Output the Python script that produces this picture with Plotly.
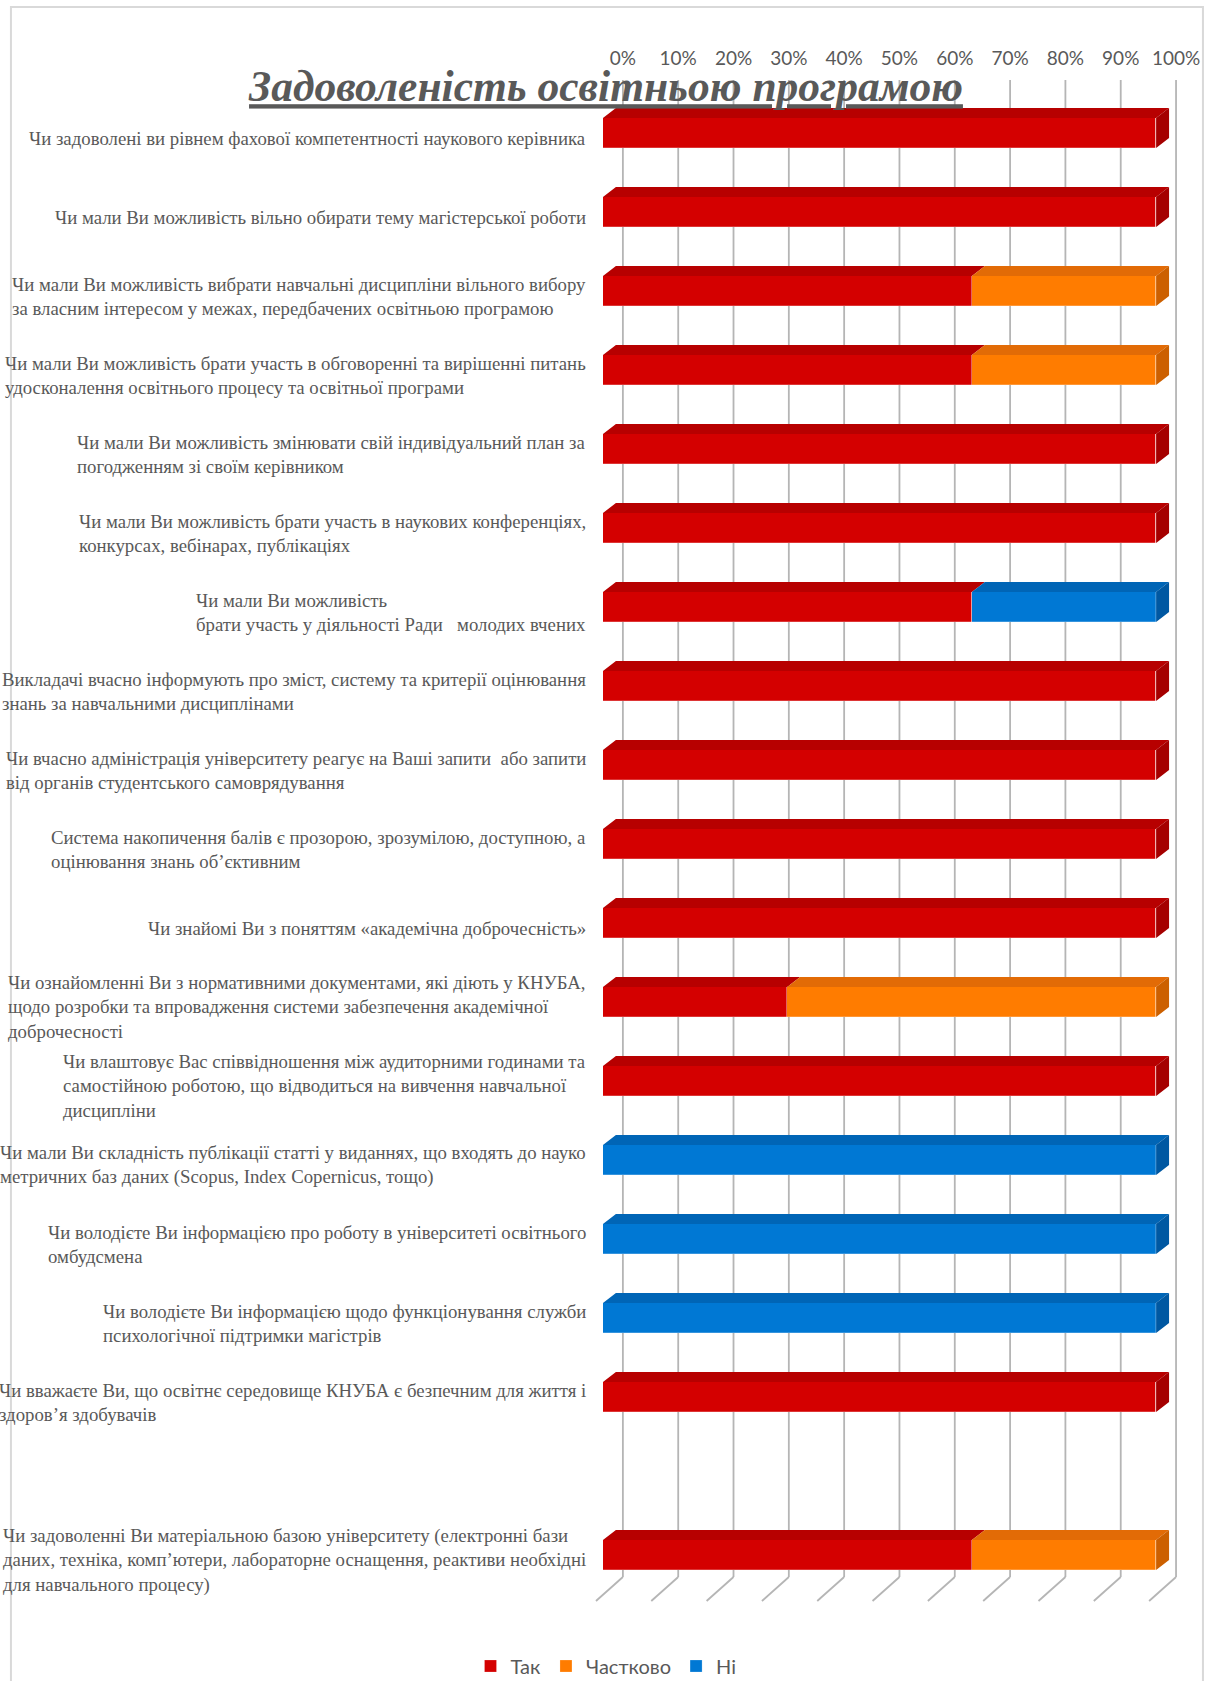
import plotly.graph_objects as go

# ---------------- data ----------------
categories = [
    "Чи задоволені ви рівнем фахової компетентності наукового керівника",
    "Чи мали Ви можливість вільно обирати тему магістерської роботи",
    "Чи мали Ви можливість вибрати навчальні дисципліни вільного вибору<br>за власним інтересом у межах, передбачених освітньою програмою",
    "Чи мали Ви можливість брати участь в обговоренні та вирішенні питань<br>удосконалення освітнього процесу та освітньої програми",
    "Чи мали Ви можливість змінювати свій індивідуальний план за<br>погодженням зі своїм керівником",
    "Чи мали Ви можливість брати участь в наукових конференціях,<br>конкурсах, вебінарах, публікаціях",
    "Чи мали Ви можливість<br>брати участь у діяльності Ради\u00a0\u00a0 молодих вчених",
    "Викладачі вчасно інформують про зміст, систему та критерії оцінювання<br>знань за навчальними дисциплінами",
    "Чи вчасно адміністрація університету реагує на Ваші запити\u00a0 або запити<br>від органів студентського самоврядування",
    "Система накопичення балів є прозорою, зрозумілою, доступною, а<br>оцінювання знань об’єктивним",
    "Чи знайомі Ви з поняттям «академічна доброчесність»",
    "Чи ознайомленні Ви з нормативними документами, які діють у КНУБА,<br>щодо розробки та впровадження системи забезпечення академічної<br>доброчесності",
    "Чи влаштовує Вас співвідношення між аудиторними годинами та<br>самостійною роботою, що відводиться на вивчення навчальної<br>дисципліни",
    "Чи мали Ви складність публікації статті у виданнях, що входять до науко<br>метричних баз даних (Scopus, Index Copernicus, тощо)",
    "Чи володієте Ви інформацією про роботу в університеті освітнього<br>омбудсмена",
    "Чи володієте Ви інформацією щодо функціонування служби<br>психологічної підтримки магістрів",
    "Чи вважаєте Ви, що освітнє середовище КНУБА є безпечним для життя і<br>здоров’я здобувачів",
    "",
    "Чи задоволенні Ви матеріальною базою університету (електронні бази<br>даних, техніка, комп’ютери, лабораторне оснащення, реактиви необхідні<br>для навчального процесу)",
]
tak       = [100, 100, 66.7, 66.7, 100, 100, 66.7, 100, 100, 100, 100, 33.3, 100, 0, 0, 0, 100, None, 66.7]
chastkovo = [0, 0, 33.3, 33.3, 0, 0, 0, 0, 0, 0, 0, 66.7, 0, 0, 0, 0, 0, None, 33.3]
ni        = [0, 0, 0, 0, 0, 0, 33.3, 0, 0, 0, 0, 0, 0, 100, 100, 100, 0, None, 0]
series_names = ["Так", "Частково", "Ні"]
tick_labels = ["0%", "10%", "20%", "30%", "40%", "50%", "60%", "70%", "80%", "90%", "100%"]
title_text = "Задоволеність освітньою програмою"

# ---------------- styles ----------------
front_colors = ["#D40000", "#FF7C00", "#0078D4"]
top_colors = ["#B70000", "#E26B06", "#0065B6"]
side_colors = ["#A50000", "#CC6000", "#0058A2"]
TEXT = "#595959"
GRID = "#b5b5b5"

W, H = 1212, 1681
L, R, T, B = 590, 1190, 78, 1602
px_per_x = 5.55
x0_px = 603
slot_px = 79.0
slot0_px = 133
xr = [(L - x0_px) / px_per_x, (R - x0_px) / px_per_x]
yr = [(B - slot0_px) / slot_px, (T - slot0_px) / slot_px]

bar_w = 0.38
dx = 13 / px_per_x
dy = 10 / slot_px
back_dx = 20 / px_per_x
floor_dx = 27 / px_per_x
floor_back = (1577 - slot0_px) / slot_px
floor_front = (1601 - slot0_px) / slot_px
grid_top = (80 - slot0_px) / slot_px

slots = list(range(len(categories)))
all_series = [tak, chastkovo, ni]

fig = go.Figure()

# gridlines (back wall + floor) as shapes behind bars
tick_vals = [10 * k + back_dx for k in range(len(tick_labels))]
shapes = []
for tv in tick_vals:
    shapes.append(dict(type="line", xref="x", yref="y", x0=tv, x1=tv, y0=grid_top, y1=floor_back,
                       line=dict(color=GRID, width=1.8), layer="below"))
    shapes.append(dict(type="line", xref="x", yref="y", x0=tv, x1=tv - floor_dx, y0=floor_back, y1=floor_front,
                       line=dict(color=GRID, width=1.8), layer="below"))
# outer chart border
shapes.append(dict(type="rect", xref="paper", yref="paper",
                   x0=(9 - L) / (R - L), x1=(1205 - L) / (R - L),
                   y0=(B - 1700) / (B - T), y1=(B - 7) / (B - T),
                   line=dict(color="#d9d9d9", width=2), fillcolor="rgba(0,0,0,0)", layer="below"))

# front faces
for name, vals, col in zip(series_names, all_series, front_colors):
    fig.add_trace(go.Bar(
        y=slots, x=vals, name=name, orientation="h", width=bar_w,
        marker=dict(color=col, line=dict(width=0.6, color="rgba(255,255,255,0.35)")),
        hoverinfo="x+name",
    ))

# 3D top faces and right side faces computed from data
top_polys = [([], []) for _ in all_series]
side_polys = [([], []) for _ in all_series]
for i in slots:
    if tak[i] is None:
        continue
    start = 0.0
    last_idx = None
    for si, vals in enumerate(all_series):
        v = vals[i]
        if v and v > 0:
            yt = i - bar_w / 2
            xs, ys = top_polys[si]
            xs += [start, start + dx, start + v + dx, start + v, start, None]
            ys += [yt, yt - dy, yt - dy, yt, yt, None]
            start += v
            last_idx = si
    if last_idx is not None:
        yt = i - bar_w / 2
        yb = i + bar_w / 2
        xs, ys = side_polys[last_idx]
        xs += [start, start + dx, start + dx, start, start, None]
        ys += [yt, yt - dy, yb - dy, yb, yt, None]

for si in range(len(all_series)):
    for polys, cols in ((top_polys, top_colors), (side_polys, side_colors)):
        xs, ys = polys[si]
        if xs:
            fig.add_trace(go.Scatter(x=xs, y=ys, mode="lines", fill="toself",
                                     fillcolor=cols[si], line=dict(width=0, color=cols[si]),
                                     showlegend=False, hoverinfo="skip"))

# category labels (left-aligned blocks, right edge at 588px)
annotations = []
for i, cat in enumerate(categories):
    if not cat:
        continue
    annotations.append(dict(
        x=(588 - L) / (R - L), xref="paper", y=i, yref="y", yshift=-5,
        text=cat, showarrow=False, xanchor="right", yanchor="middle", align="left",
        font=dict(family="Liberation Serif", size=18.8, color=TEXT),
    ))

fig.update_layout(
    width=W, height=H, autosize=False,
    margin=dict(l=L, r=W - R, t=T, b=H - B, pad=0),
    paper_bgcolor="white", plot_bgcolor="rgba(0,0,0,0)",
    barmode="stack", bargap=0,
    shapes=shapes, annotations=annotations,
    title=dict(text=title_text, x=606 / W, xanchor="center", y=1 - 86 / H, yanchor="middle",
               xref="container", yref="container",
               font=dict(family="Liberation Serif", size=43.5, color=TEXT, style="italic",
                         weight="bold", lineposition="under")),
    xaxis=dict(range=xr, side="top", tickvals=tick_vals, ticktext=tick_labels,
               showgrid=False, zeroline=False, showline=False, ticks="",
               ticklabelstandoff=8,
               tickfont=dict(family="Lato", size=19, color=TEXT), fixedrange=True),
    yaxis=dict(range=yr, showgrid=False, zeroline=False, showline=False,
               showticklabels=False, ticks="", fixedrange=True),
    legend=dict(orientation="h", xref="container", yref="container",
                x=606 / W, xanchor="center", y=1 - 1666 / H, yanchor="middle",
                font=dict(family="Lato", size=20, color=TEXT), traceorder="normal",
                itemwidth=30),
    showlegend=True,
)

fig.write_html("out.html", config={"displayModeBar": False},
               post_script="document.body.style.margin='0';document.body.style.overflow='hidden';")
